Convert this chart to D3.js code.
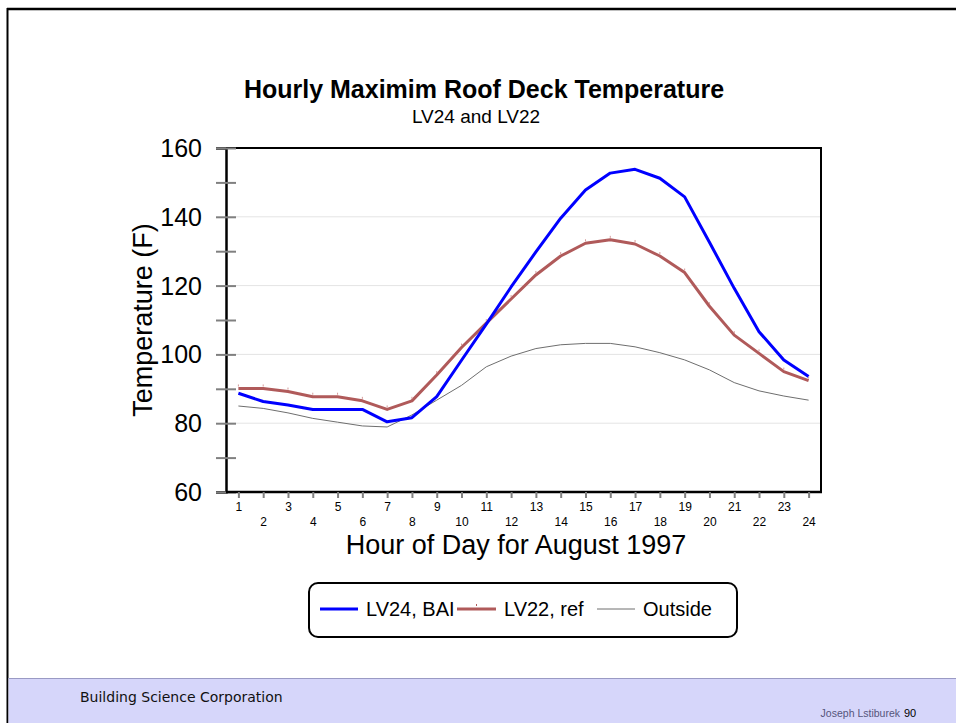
<!DOCTYPE html>
<html>
<head>
<meta charset="utf-8">
<script src="https://cdn.jsdelivr.net/npm/d3@7"></script>
<style>
  html, body { margin: 0; padding: 0; background: #fff; }
  svg { display: block; }
  text { font-family: "Liberation Sans", Arial, sans-serif; }
</style>
</head>
<body>
<svg id="chart" width="956" height="723"></svg>
<script>
// Hourly readings, 1..24
const hours = d3.range(1, 25);
const lv24 = [88.7, 86.3, 85.3, 84.0, 84.0, 84.0, 80.4, 81.6, 87.7, 98.3, 108.8, 119.6,
              129.8, 139.6, 147.8, 152.7, 153.8, 151.2, 145.8, 132.6, 119.2, 106.6, 98.4, 93.6];
const lv22 = [90.1, 90.1, 89.2, 87.7, 87.7, 86.5, 84.0, 86.5, 94.0, 102.0, 109.1, 116.1,
              123.1, 128.6, 132.3, 133.3, 132.1, 128.6, 123.8, 114.0, 105.6, 100.3, 95.0, 92.4];
const outside = [85.0, 84.3, 83.0, 81.4, 80.3, 79.2, 78.9, 82.4, 86.7, 91.0, 96.4, 99.5,
                 101.7, 102.8, 103.2, 103.2, 102.2, 100.5, 98.4, 95.5, 91.8, 89.4, 87.9, 86.7];
const yTicks = d3.range(60, 161, 10);
const yLabels = [60, 80, 100, 120, 140, 160];
const gridValues = [80, 100, 120, 140];

const seriesNames = ["LV24, BAI", "LV22, ref", "Outside"];
const seriesColors = ["#0000ff", "#b05a5a", "#6e6e6e"];
const seriesWidths = [3, 3, 1];

const svg = d3.select("#chart");

// slide frame
svg.append("line").attr("x1", 7).attr("x2", 956).attr("y1", 9).attr("y2", 9)
  .attr("stroke", "#000").attr("stroke-width", 2.5);
svg.append("line").attr("x1", 7.5).attr("x2", 7.5).attr("y1", 8).attr("y2", 723)
  .attr("stroke", "#000").attr("stroke-width", 2);

// footer band
svg.append("rect").attr("x", 8.5).attr("y", 678).attr("width", 948).attr("height", 45)
  .attr("fill", "#d6d6fa");
svg.append("line").attr("x1", 8.5).attr("x2", 956).attr("y1", 678.5).attr("y2", 678.5)
  .attr("stroke", "#9a9ac4").attr("stroke-width", 1);
svg.append("text").attr("x", 80).attr("y", 702)
  .style("font-family", "'DejaVu Sans', Verdana, sans-serif").style("font-size", "14px")
  .attr("fill", "#111").text("Building Science Corporation");
svg.append("text").attr("x", 900).attr("y", 717).attr("text-anchor", "end")
  .style("font-size", "10.5px").attr("fill", "#55557a").text("Joseph Lstiburek");
svg.append("text").attr("x", 904).attr("y", 717)
  .style("font-size", "11px").attr("fill", "#000").text("90");

// plot area
const plotL = 226, plotR = 821, plotT = 148, plotB = 492;
const x = d3.scalePoint().domain(hours).range([plotL, plotR]).padding(0.5);
const y = d3.scaleLinear().domain([60, 160]).range([plotB, plotT]);

// titles
svg.append("text").attr("x", 484).attr("y", 98).attr("text-anchor", "middle")
  .style("font-size", "25px").style("font-weight", "bold").text("Hourly Maximim Roof Deck Temperature");
svg.append("text").attr("x", 476).attr("y", 123).attr("text-anchor", "middle")
  .style("font-size", "19px").text("LV24 and LV22");

// gridlines
svg.append("g").selectAll("line").data(gridValues).join("line")
  .attr("x1", plotL).attr("x2", plotR)
  .attr("y1", d => y(d)).attr("y2", d => y(d))
  .attr("stroke", "#e4e4e4").attr("stroke-width", 1);

// frame top and right
svg.append("line").attr("x1", plotL).attr("x2", plotR + 1).attr("y1", plotT).attr("y2", plotT)
  .attr("stroke", "#000").attr("stroke-width", 2);
svg.append("line").attr("x1", plotR).attr("x2", plotR).attr("y1", plotT).attr("y2", plotB)
  .attr("stroke", "#000").attr("stroke-width", 2);

// y axis
const yAxis = svg.append("g").attr("transform", `translate(${plotL},0)`)
  .call(d3.axisLeft(y).tickValues(yTicks).tickSize(10).tickPadding(14)
    .tickFormat(d => yLabels.includes(d) ? d : ""));
yAxis.select(".domain").attr("stroke", "#000").attr("stroke-width", 2.5);
yAxis.selectAll(".tick line").attr("x1", -10).attr("x2", 10)
  .attr("stroke", "#808080").attr("stroke-width", 2);
yAxis.selectAll(".tick text").style("font-size", "25px").attr("fill", "#000")
  .attr("dy", "0.34em").style("font-family", "'Liberation Sans', Arial, sans-serif");

// x axis
const xAxis = svg.append("g").attr("transform", `translate(0,${plotB})`)
  .call(d3.axisBottom(x).tickSize(6).tickSizeOuter(0));
xAxis.select(".domain").attr("stroke", "#000").attr("stroke-width", 2.5)
  .attr("d", `M${plotL},0H${plotR + 1}`);
xAxis.selectAll(".tick line").attr("stroke", "#808080").attr("stroke-width", 2);
xAxis.selectAll(".tick text").style("font-size", "12px").attr("fill", "#000")
  .style("font-family", "'Liberation Sans', Arial, sans-serif")
  .attr("dy", null).attr("y", d => d % 2 === 1 ? 19 : 34);

// axis titles
svg.append("text").attr("x", 516).attr("y", 554).attr("text-anchor", "middle")
  .style("font-size", "27px").text("Hour of Day for August 1997");
svg.append("text").attr("transform", `translate(152,${(plotT + plotB) / 2}) rotate(-90)`)
  .attr("text-anchor", "middle")
  .style("font-size", "27px").text("Temperature (F)");

// series lines
const allSeries = [lv24, lv22, outside];
const line = d3.line().x((d, i) => x(hours[i])).y(d => y(d));
[2, 1, 0].forEach(k => {
  svg.append("path").datum(allSeries[k]).attr("d", line)
    .attr("fill", "none").attr("stroke", seriesColors[k])
    .attr("stroke-width", seriesWidths[k]).attr("stroke-linejoin", "round");
});
// small point markers on LV22
svg.append("g").selectAll("rect").data(lv22).join("rect")
  .attr("x", (d, i) => x(hours[i]) - 0.5).attr("y", d => y(d) - 4)
  .attr("width", 1).attr("height", 2).attr("fill", "#d49a9a");

// legend
const lg = svg.append("g");
lg.append("rect").attr("x", 309).attr("y", 583).attr("width", 428).attr("height", 54)
  .attr("rx", 9).attr("fill", "#fff").attr("stroke", "#000").attr("stroke-width", 2);
const legendItems = [
  { x1: 320, x2: 358, tx: 366 },
  { x1: 457, x2: 496, tx: 504 },
  { x1: 597, x2: 635, tx: 643 }
];
legendItems.forEach((it, k) => {
  lg.append("line").attr("x1", it.x1).attr("x2", it.x2).attr("y1", 609).attr("y2", 609)
    .attr("stroke", seriesColors[k]).attr("stroke-width", seriesWidths[k]);
  lg.append("text").attr("x", it.tx).attr("y", 616).style("font-size", "20px").text(seriesNames[k]);
});
lg.append("rect").attr("x", (457 + 496) / 2 - 0.5).attr("y", 604).attr("width", 1).attr("height", 2)
  .attr("fill", "#b05a5a");
</script>
</body>
</html>
